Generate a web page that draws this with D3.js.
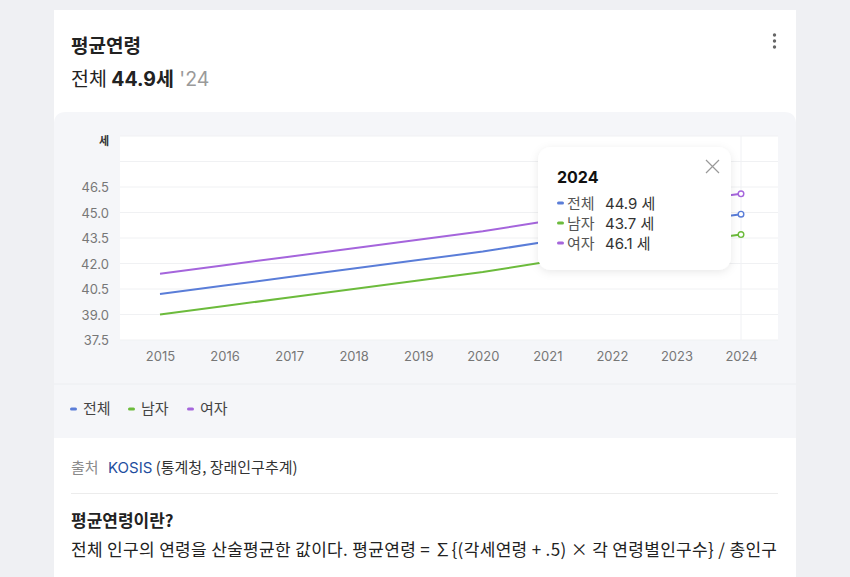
<!DOCTYPE html>
<html><head><meta charset="utf-8">
<script src="https://cdn.jsdelivr.net/npm/d3@7"></script>
<style>
html,body{margin:0;padding:0;background:#eff0f3;}
svg{display:block;font-family:Inter,"Noto Sans CJK KR",sans-serif;}
</style></head>
<body>
<svg id="c" width="850" height="577"></svg>
<script>
const years = [2015,2016,2017,2018,2019,2020,2021,2022,2023,2024];
const total = [40.2,40.7,41.2,41.7,42.2,42.7,43.3,43.8,44.4,44.9];
const male  = [39.0,39.5,40.0,40.5,41.0,41.5,42.1,42.6,43.2,43.7];
const female= [41.4,41.9,42.4,42.9,43.4,43.9,44.5,45.0,45.6,46.1];
const seriesNames = ["전체","남자","여자"];
const seriesColors = ["#5a7dd8","#6cbb3c","#a565dc"];
const yTicks = [37.5,39.0,40.5,42.0,43.5,45.0,46.5];
const yGrid = [37.5,39.0,40.5,42.0,43.5,45.0,46.5,48.0,49.5];
const unit = "세";

const series = [total, male, female].map((v,i)=>({name:seriesNames[i], color:seriesColors[i], values:v}));

const svg = d3.select("#c");
const KR = "'Noto Sans CJK KR',sans-serif";
const NUM = "Inter,'Noto Sans CJK KR',sans-serif";

// card
svg.append("rect").attr("x",54).attr("y",10).attr("width",742).attr("height",580).attr("fill","#fff");
// chart panel
svg.append("path").attr("d","M54,438 L54,124 Q54,112 66,112 L784,112 Q796,112 796,124 L796,438 Z").attr("fill","#f5f6f9");

// header
svg.append("text").attr("x",71).attr("y",53).attr("font-family",KR).attr("font-size",19).attr("font-weight",700).attr("fill","#222").text("평균연령");
const sub = svg.append("text").attr("x",71).attr("y",86).attr("font-size",19.5).attr("fill","#222");
sub.append("tspan").attr("font-family",KR).text("전체 ");
sub.append("tspan").attr("font-family",NUM).attr("font-weight",700).text("44.9");
sub.append("tspan").attr("font-family",KR).attr("font-weight",700).text("세");
sub.append("tspan").attr("font-family",NUM).attr("fill","#9a9a9a").text(" '24");
// menu dots
[35,41,47].forEach(cy=>svg.append("circle").attr("cx",774.5).attr("cy",cy).attr("r",1.7).attr("fill","#666"));

// scales
const x = d3.scalePoint().domain(years).range([160,741]);
const y = d3.scaleLinear().domain([37.5,49.5]).range([340,136]);

// plot area
svg.append("rect").attr("x",120).attr("y",y(49.5)).attr("width",658).attr("height",y(37.5)-y(49.5)).attr("fill","#fff");
svg.append("g").selectAll("line").data(yGrid).join("line")
  .attr("x1",120).attr("x2",778).attr("y1",d=>y(d)).attr("y2",d=>y(d))
  .attr("stroke","#f0f1f3").attr("stroke-width",1);
svg.append("line").attr("x1",x(2024)).attr("x2",x(2024)).attr("y1",y(49.5)).attr("y2",y(37.5)).attr("stroke","#f0f1f4");

// y axis
const yAxis = d3.axisLeft(y).tickValues(yTicks).tickFormat(d3.format(".1f")).tickSize(0).tickPadding(0);
const gy = svg.append("g").attr("transform","translate(109,0.5)").call(yAxis);
gy.select(".domain").remove();
gy.selectAll("text").attr("font-family",NUM).attr("font-size",13).attr("fill","#777");
svg.append("text").attr("x",104).attr("y",145).attr("text-anchor","middle").attr("font-family",KR).attr("font-size",11).attr("font-weight",700).attr("fill","#333").text(unit);

// x axis
const xAxis = d3.axisBottom(x).tickSize(0).tickPadding(0);
const gx = svg.append("g").attr("transform","translate(0,352)").call(xAxis);
gx.select(".domain").remove();
gx.selectAll("text").attr("font-family",NUM).attr("font-size",13).attr("fill","#777");

// lines
const line = d3.line().x((d,i)=>x(years[i])).y(d=>y(d));
svg.append("g").selectAll("path").data(series).join("path")
  .attr("d",d=>line(d.values)).attr("fill","none").attr("stroke",d=>d.color).attr("stroke-width",2).attr("stroke-linejoin","round");
svg.append("g").selectAll("circle").data(series).join("circle")
  .attr("cx",x(2024)).attr("cy",d=>y(d.values[d.values.length-1])).attr("r",2.8)
  .attr("fill","#fff").attr("stroke",d=>d.color).attr("stroke-width",1.4);

// separator & legend
svg.append("line").attr("x1",54).attr("x2",796).attr("y1",384).attr("y2",384).attr("stroke","#eceef1");
const legX = [70,128,187];
series.forEach((s,i)=>{
  svg.append("rect").attr("x",legX[i]).attr("y",407.5).attr("width",7).attr("height",3).attr("rx",1.5).attr("fill",s.color);
  svg.append("text").attr("x",legX[i]+13).attr("y",414).attr("font-family",KR).attr("font-size",15).attr("fill","#444").text(s.name);
});

// tooltip
const defs = svg.append("defs");
const f = defs.append("filter").attr("id","sh").attr("x","-20%").attr("y","-20%").attr("width","140%").attr("height","150%");
f.append("feDropShadow").attr("dx",0).attr("dy",2).attr("stdDeviation",4).attr("flood-color","#000").attr("flood-opacity",0.09);
const tt = svg.append("g").attr("transform","translate(538,147)");
tt.append("rect").attr("width",193).attr("height",123).attr("rx",13).attr("fill","#fff").attr("filter","url(#sh)");
tt.append("text").attr("x",19).attr("y",36).attr("font-family",NUM).attr("font-size",16).attr("font-weight",700).attr("fill","#111").text(years[years.length-1]);
tt.append("path").attr("d","M168,13 L181,26 M181,13 L168,26").attr("stroke","#999").attr("stroke-width",1.2);
series.forEach((s,i)=>{
  const cy = 56 + i*20;
  tt.append("rect").attr("x",19).attr("y",cy-1.5).attr("width",7).attr("height",3).attr("rx",1.5).attr("fill",s.color);
  tt.append("text").attr("x",29).attr("y",cy+5.5).attr("font-family",KR).attr("font-size",15).attr("fill","#555").text(s.name);
  tt.append("text").attr("x",67).attr("y",cy+5.5).attr("font-family",NUM).attr("font-size",15).attr("fill","#333").text(s.values[s.values.length-1].toFixed(1)+" "+unit);
});

// source
const src = svg.append("text").attr("x",71).attr("y",473).attr("font-size",15).attr("font-family",KR);
src.append("tspan").attr("fill","#8a8a8a").text("출처");
src.append("tspan").attr("x",108).attr("fill","#1f4e9e").attr("font-family",NUM).text("KOSIS");
src.append("tspan").attr("fill","#333").text(" (통계청, 장래인구추계)");
svg.append("line").attr("x1",71).attr("x2",778).attr("y1",493.5).attr("y2",493.5).attr("stroke","#ececec");

svg.append("text").attr("x",71).attr("y",527).attr("font-family",KR).attr("font-size",17).attr("font-weight",700).attr("fill","#222").text("평균연령이란?");
svg.append("text").attr("x",71).attr("y",556).attr("font-family",KR).attr("font-size",17).attr("fill","#222")
  .attr("textLength",706).attr("lengthAdjust","spacing")
  .text("전체 인구의 연령을 산술평균한 값이다. 평균연령 = ∑{(각세연령 + .5) × 각 연령별인구수} / 총인구");
</script>
</body></html>
